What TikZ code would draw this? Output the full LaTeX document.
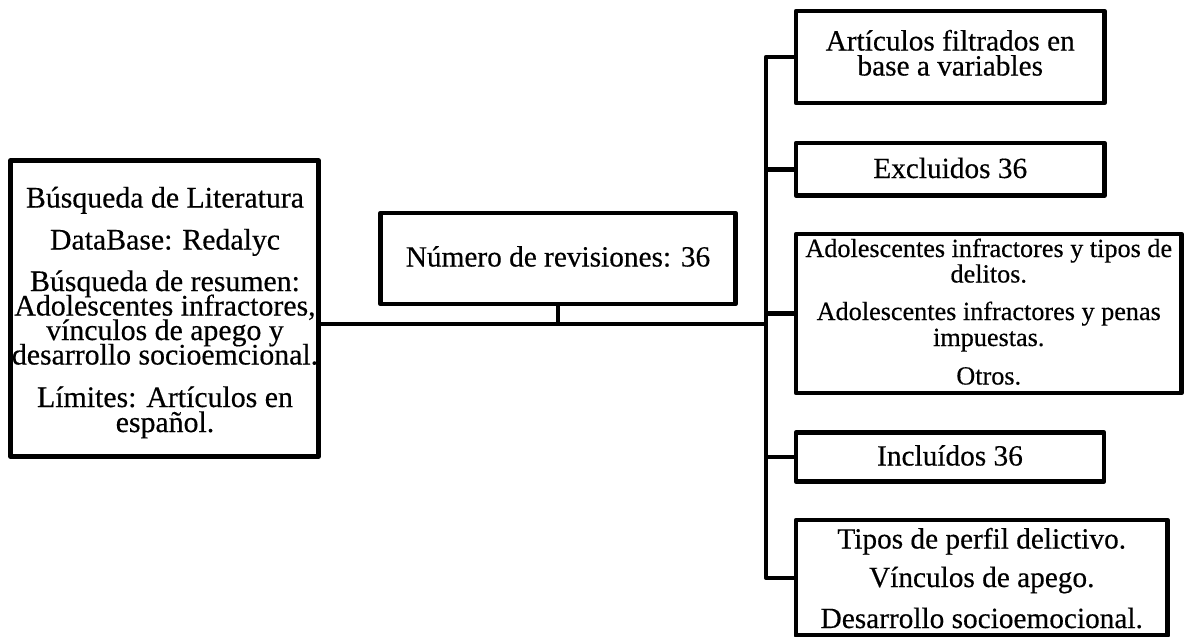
\documentclass[tikz,border=0pt]{standalone}
\usepackage{fontspec}
\setmainfont{Liberation Serif}[FakeBold=0.4]
\begin{document}
\begin{tikzpicture}[x=1pt,y=-1pt,
  box/.style={draw, line width=4.5pt, line join=round, inner sep=0pt, outer sep=0pt},
  conn/.style={line width=4.5pt, line join=round},
  txt/.style={anchor=base, inner sep=0pt, font=\fontsize{29.3}{29.3}\selectfont},
  txtl/.style={txt, font=\fontsize{29.8}{29.8}\selectfont},
  txts/.style={txt, font=\fontsize{26.2}{26.2}\selectfont}]
\useasboundingbox (0,0) rectangle (1187,637);
% boxes
\node[box, minimum width=308pt, minimum height=296pt] (L) at (164.5,308.5) {};
\node[box, minimum width=355pt, minimum height=91pt] (M) at (558,258.5) {};
\node[box, minimum width=308.5pt, minimum height=92pt] (B1) at (950.25,57) {};
\node[box, minimum width=308.5pt, minimum height=52.5pt] (B2) at (950.25,169.25) {};
\node[box, minimum width=385.5pt, minimum height=159pt] (B3) at (988.75,313.5) {};
\node[box, minimum width=308pt, minimum height=49pt] (B4) at (950,457) {};
\node[box, minimum width=371.5pt, minimum height=115.5pt] (B5) at (981.75,577.75) {};
% texts
\node[txtl] (l1) at (165,207.5) {Búsqueda de Literatura};
\node[txtl] (l2) at (165,249.5) {DataBase: Redalyc};
\node[txtl] (l3) at (165,291) {Búsqueda de resumen:};
\node[txtl] (l4) at (165,315.5) {Adolescentes infractores,};
\node[txtl] (l5) at (165,340) {vínculos de apego y};
\node[txtl] (l6) at (165,364.5) {desarrollo socioemcional.};
\node[txtl] (l7) at (165,407) {Límites: Artículos en};
\node[txtl] (l8) at (165,432) {español.};
\node[txt] (m1) at (558,266.5) {Número de revisiones: 36};
\node[txt] (a1) at (950.25,50.5) {Artículos filtrados en};
\node[txt] (a2) at (950.25,75.5) {base a variables};
\node[txt] (e1) at (950.25,178) {Excluidos 36};
\node[txts] (c1) at (988.75,257) {Adolescentes infractores y tipos de};
\node[txts] (c2) at (988.75,282.5) {delitos.};
\node[txts] (c3) at (988.75,320) {Adolescentes infractores y penas};
\node[txts] (c4) at (988.75,346) {impuestas.};
\node[txts] (c5) at (988.75,384.5) {Otros.};
\node[txt] (i1) at (950,465.5) {Incluídos 36};
\node[txt] (t1) at (981.75,548.5) {Tipos de perfil delictivo.};
\node[txt] (t2) at (981.75,587) {Vínculos de apego.};
\node[txt] (t3) at (981.75,628) {Desarrollo socioemocional.};
% connectors
\coordinate (hub) at (766,324);
\draw[conn] (L.east |- hub) -- (hub);
\draw[conn] (M.south) -- (M.south |- hub);
\draw[conn] (B1.west) -- (hub |- B1.west) -- (hub |- B5.west) -- (B5.west);
\draw[conn] (hub |- B2.west) -- (B2.west);
\draw[conn] (hub |- B3.west) -- (B3.west);
\draw[conn] (hub |- B4.west) -- (B4.west);
\end{tikzpicture}
\end{document}
